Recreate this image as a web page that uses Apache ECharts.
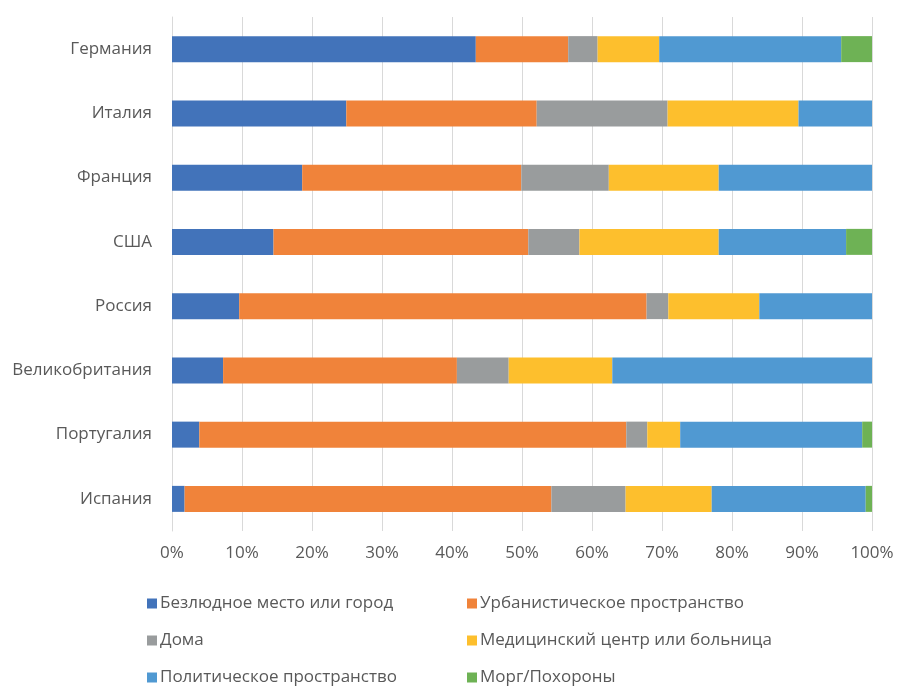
<!DOCTYPE html>
<html><head><meta charset="utf-8">
<script src="https://cdn.jsdelivr.net/npm/echarts@6/dist/echarts.min.js"></script>
<style>html,body{margin:0;padding:0;background:#fff}#c{width:898px;height:687px}</style>
</head><body><div id="c"></div>
<script>
const categories = ['Германия','Италия','Франция','США','Россия','Великобритания','Португалия','Испания'];
const seriesNames = ['Безлюдное место или город','Урбанистическое пространство','Дома','Медицинский центр или больница','Политическое пространство','Морг/Похороны'];
const deserted = [43.4, 24.9, 18.6, 14.5, 9.6, 7.3, 3.9, 1.8];
const urban    = [13.2, 27.2, 31.3, 36.4, 58.2, 33.4, 61.0, 52.4];
const home     = [4.2, 18.7, 12.5, 7.3, 3.1, 7.4, 3.0, 10.6];
const medical  = [8.8, 18.7, 15.7, 19.9, 13.0, 14.8, 4.7, 12.3];
const political= [26.0, 10.5, 21.9, 18.2, 16.1, 37.1, 26.0, 22.0];
const morgue   = [4.4, 0, 0, 3.7, 0, 0, 1.4, 0.9];
const xTicks = [0,10,20,30,40,50,60,70,80,90,100];

const colors = ['#4273BA','#F0833A','#999C9D','#FDBF2D','#5099D2','#6EB255'];
const values = [deserted, urban, home, medical, political, morgue];
const font = '"Open Sans", sans-serif';
const legendPos = [[147,595],[467,595],[147,632],[467,632],[147,669],[467,669]];
const chart = echarts.init(document.getElementById('c'));
chart.setOption({
  animation:false,
  color: colors,
  grid:{left:172,right:26,top:17,bottom:156,containLabel:false},
  xAxis:{type:'value',min:0,max:100,interval:10,
    axisLabel:{formatter:'{value}%',color:'#595959',fontSize:17,fontFamily:font,margin:14},
    axisLine:{show:false},axisTick:{show:false},
    splitLine:{lineStyle:{color:'#d9d9d9',width:1}}},
  yAxis:{type:'category',inverse:true,data:categories,
    axisLabel:{color:'#595959',fontSize:17,fontFamily:font,margin:20},
    axisLine:{show:true,lineStyle:{color:'#d9d9d9'}},axisTick:{show:false}},
  legend: seriesNames.map((n,i)=>({data:[n],left:legendPos[i][0],top:legendPos[i][1],padding:0,
    itemWidth:10,itemHeight:10,icon:'rect',itemGap:4,
    textStyle:{color:'#595959',fontSize:17,fontFamily:font,padding:[0,0,0,-2]}})),
  series: seriesNames.map((n,i)=>({name:n,type:'bar',stack:'total',barWidth:26,data:values[i]}))
});
</script></body></html>
